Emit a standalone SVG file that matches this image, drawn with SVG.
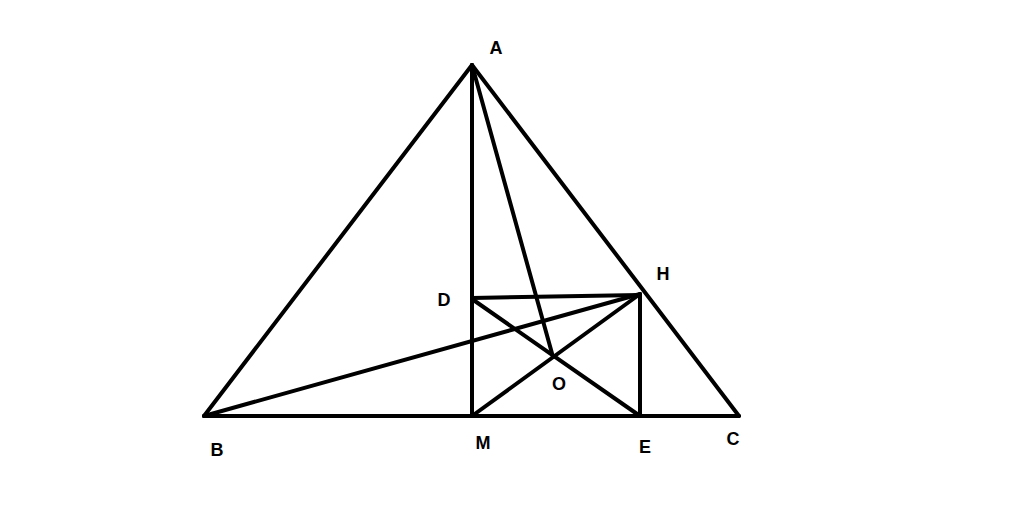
<svg xmlns="http://www.w3.org/2000/svg" width="1024" height="528" viewBox="0 0 1024 528">
<style>
.l{stroke:#000;stroke-width:4;stroke-linecap:round;stroke-linejoin:round;fill:none}
.t{font-family:"Liberation Sans",Arial,sans-serif;font-weight:bold;font-size:18px;fill:#000;text-anchor:middle}
</style>
<rect width="1024" height="528" fill="#fff"/>
<g id="connectors">
<line class="l" x1="472" y1="65" x2="204" y2="416"/>
<line class="l" x1="472" y1="65" x2="739" y2="416"/>
<line class="l" x1="204" y1="416" x2="739" y2="416"/>
<line class="l" x1="472" y1="65" x2="472" y2="416"/>
<line class="l" x1="472" y1="65" x2="553" y2="357"/>
<line class="l" x1="472" y1="298" x2="640" y2="295"/>
<line class="l" x1="640" y1="294" x2="640" y2="416"/>
<line class="l" x1="204" y1="416" x2="640" y2="294"/>
<line class="l" x1="472" y1="299" x2="640" y2="416"/>
<line class="l" x1="472" y1="416" x2="640" y2="294"/>
</g>
<g id="A"><text class="t" x="496" y="54">A</text></g>
<g id="B"><text class="t" x="217" y="456">B</text></g>
<g id="C"><text class="t" x="733" y="445">C</text></g>
<g id="D"><text class="t" x="444" y="306">D</text></g>
<g id="H"><text class="t" x="663" y="280">H</text></g>
<g id="O"><text class="t" x="559" y="390">O</text></g>
<g id="M"><text class="t" x="483" y="449">M</text></g>
<g id="E"><text class="t" x="645" y="453">E</text></g>
</svg>
